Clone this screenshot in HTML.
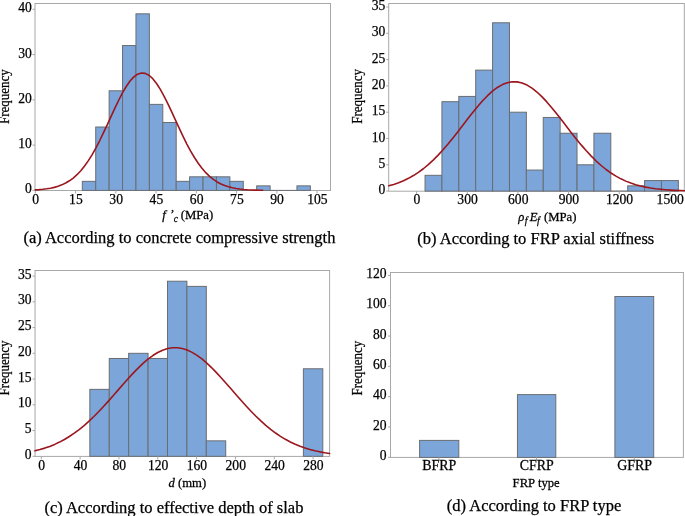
<!DOCTYPE html>
<html><head><meta charset="utf-8"><style>
html,body{margin:0;padding:0;background:#fff;}
#w{position:absolute;left:0;top:0;width:685px;height:516px;will-change:transform;}
svg{display:block;font-family:"Liberation Serif",serif;}
text{fill:#000;stroke:#000;stroke-width:0.25px;}
</style></head><body><div id="w">
<svg width="685" height="516" viewBox="0 0 685 516">
<rect x="35.0" y="3.5" width="295.5" height="187.0" fill="none" stroke="#a8a8a8" stroke-width="1"/>
<rect x="82.30" y="181.34" width="13.41" height="9.06" fill="#7ca6d9" stroke="#6a6d72" stroke-width="1"/>
<rect x="95.72" y="127.02" width="13.41" height="63.38" fill="#7ca6d9" stroke="#6a6d72" stroke-width="1"/>
<rect x="109.13" y="90.80" width="13.41" height="99.60" fill="#7ca6d9" stroke="#6a6d72" stroke-width="1"/>
<rect x="122.55" y="45.52" width="13.42" height="144.88" fill="#7ca6d9" stroke="#6a6d72" stroke-width="1"/>
<rect x="135.96" y="13.83" width="13.41" height="176.57" fill="#7ca6d9" stroke="#6a6d72" stroke-width="1"/>
<rect x="149.38" y="104.38" width="13.41" height="86.02" fill="#7ca6d9" stroke="#6a6d72" stroke-width="1"/>
<rect x="162.79" y="122.49" width="13.41" height="67.91" fill="#7ca6d9" stroke="#6a6d72" stroke-width="1"/>
<rect x="176.21" y="181.34" width="13.41" height="9.06" fill="#7ca6d9" stroke="#6a6d72" stroke-width="1"/>
<rect x="189.62" y="176.82" width="13.42" height="13.58" fill="#7ca6d9" stroke="#6a6d72" stroke-width="1"/>
<rect x="203.04" y="176.82" width="13.41" height="13.58" fill="#7ca6d9" stroke="#6a6d72" stroke-width="1"/>
<rect x="216.45" y="176.82" width="13.41" height="13.58" fill="#7ca6d9" stroke="#6a6d72" stroke-width="1"/>
<rect x="229.87" y="181.34" width="13.41" height="9.06" fill="#7ca6d9" stroke="#6a6d72" stroke-width="1"/>
<line x1="243.28" y1="190.40" x2="256.70" y2="190.40" stroke="#6a6d72" stroke-width="1"/>
<rect x="256.70" y="185.87" width="13.42" height="4.53" fill="#7ca6d9" stroke="#6a6d72" stroke-width="1"/>
<line x1="270.11" y1="190.40" x2="283.53" y2="190.40" stroke="#6a6d72" stroke-width="1"/>
<line x1="283.53" y1="190.40" x2="296.94" y2="190.40" stroke="#6a6d72" stroke-width="1"/>
<rect x="296.94" y="185.87" width="13.42" height="4.53" fill="#7ca6d9" stroke="#6a6d72" stroke-width="1"/>
<line x1="32.50" y1="190.40" x2="35.00" y2="190.40" stroke="#a8a8a8" stroke-width="1"/>
<text transform="translate(31.90,193.40) scale(1.0,1.0)" text-anchor="end" font-size="13.6" >0</text>
<line x1="32.50" y1="145.12" x2="35.00" y2="145.12" stroke="#a8a8a8" stroke-width="1"/>
<text transform="translate(31.90,148.12) scale(1.0,1.0)" text-anchor="end" font-size="13.6" >10</text>
<line x1="32.50" y1="99.85" x2="35.00" y2="99.85" stroke="#a8a8a8" stroke-width="1"/>
<text transform="translate(31.90,102.85) scale(1.0,1.0)" text-anchor="end" font-size="13.6" >20</text>
<line x1="32.50" y1="54.58" x2="35.00" y2="54.58" stroke="#a8a8a8" stroke-width="1"/>
<text transform="translate(31.90,57.58) scale(1.0,1.0)" text-anchor="end" font-size="13.6" >30</text>
<line x1="32.50" y1="9.30" x2="35.00" y2="9.30" stroke="#a8a8a8" stroke-width="1"/>
<text transform="translate(31.90,12.30) scale(1.0,1.0)" text-anchor="end" font-size="13.6" >40</text>
<line x1="35.35" y1="190.50" x2="35.35" y2="193.50" stroke="#a8a8a8" stroke-width="1"/>
<text transform="translate(35.65,204.00) scale(1.0,1.0)" text-anchor="middle" font-size="13.6" >0</text>
<line x1="75.59" y1="190.50" x2="75.59" y2="193.50" stroke="#a8a8a8" stroke-width="1"/>
<text transform="translate(75.89,204.00) scale(1.0,1.0)" text-anchor="middle" font-size="13.6" >15</text>
<line x1="115.84" y1="190.50" x2="115.84" y2="193.50" stroke="#a8a8a8" stroke-width="1"/>
<text transform="translate(116.14,204.00) scale(1.0,1.0)" text-anchor="middle" font-size="13.6" >30</text>
<line x1="156.08" y1="190.50" x2="156.08" y2="193.50" stroke="#a8a8a8" stroke-width="1"/>
<text transform="translate(156.38,204.00) scale(1.0,1.0)" text-anchor="middle" font-size="13.6" >45</text>
<line x1="196.33" y1="190.50" x2="196.33" y2="193.50" stroke="#a8a8a8" stroke-width="1"/>
<text transform="translate(196.63,204.00) scale(1.0,1.0)" text-anchor="middle" font-size="13.6" >60</text>
<line x1="236.57" y1="190.50" x2="236.57" y2="193.50" stroke="#a8a8a8" stroke-width="1"/>
<text transform="translate(236.88,204.00) scale(1.0,1.0)" text-anchor="middle" font-size="13.6" >75</text>
<line x1="276.82" y1="190.50" x2="276.82" y2="193.50" stroke="#a8a8a8" stroke-width="1"/>
<text transform="translate(277.12,204.00) scale(1.0,1.0)" text-anchor="middle" font-size="13.6" >90</text>
<line x1="317.06" y1="190.50" x2="317.06" y2="193.50" stroke="#a8a8a8" stroke-width="1"/>
<text transform="translate(317.37,204.00) scale(1.0,1.0)" text-anchor="middle" font-size="13.6" >105</text>
<polyline points="35.35,189.87 39.14,189.62 42.93,189.28 46.71,188.82 50.50,188.19 54.29,187.36 58.08,186.26 61.86,184.85 65.65,183.05 69.44,180.80 73.23,178.04 77.01,174.69 80.80,170.70 84.59,166.02 88.38,160.65 92.16,154.57 95.95,147.83 99.74,140.51 103.53,132.70 107.31,124.57 111.10,116.31 114.89,108.12 118.68,100.25 122.46,92.96 126.25,86.48 130.04,81.07 133.83,76.91 137.61,74.17 141.40,72.97 145.19,73.34 148.98,75.28 152.76,78.70 156.55,83.47 160.34,89.41 164.13,96.31 167.91,103.90 171.70,111.95 175.49,120.20 179.28,128.43 183.06,136.43 186.85,144.03 190.64,151.09 194.43,157.52 198.21,163.27 202.00,168.31 205.79,172.66 209.58,176.34 213.36,179.41 217.15,181.92 220.94,183.95 224.73,185.56 228.51,186.81 232.30,187.78 236.09,188.51 239.88,189.06 243.66,189.46 247.45,189.75 251.24,189.95 255.03,190.10 258.81,190.20 262.60,190.27" fill="none" stroke="#9c161e" stroke-width="1.6" stroke-linejoin="round" stroke-linecap="round"/>
<rect x="388.7" y="3.5" width="295.59999999999997" height="187.7" fill="none" stroke="#a8a8a8" stroke-width="1"/>
<rect x="425.04" y="175.32" width="16.89" height="15.78" fill="#7ca6d9" stroke="#6a6d72" stroke-width="1"/>
<rect x="441.93" y="101.68" width="16.89" height="89.42" fill="#7ca6d9" stroke="#6a6d72" stroke-width="1"/>
<rect x="458.82" y="96.42" width="16.89" height="94.68" fill="#7ca6d9" stroke="#6a6d72" stroke-width="1"/>
<rect x="475.70" y="70.12" width="16.89" height="120.98" fill="#7ca6d9" stroke="#6a6d72" stroke-width="1"/>
<rect x="492.59" y="22.78" width="16.89" height="168.32" fill="#7ca6d9" stroke="#6a6d72" stroke-width="1"/>
<rect x="509.48" y="112.20" width="16.89" height="78.90" fill="#7ca6d9" stroke="#6a6d72" stroke-width="1"/>
<rect x="526.37" y="170.06" width="16.89" height="21.04" fill="#7ca6d9" stroke="#6a6d72" stroke-width="1"/>
<rect x="543.25" y="117.46" width="16.89" height="73.64" fill="#7ca6d9" stroke="#6a6d72" stroke-width="1"/>
<rect x="560.14" y="133.24" width="16.89" height="57.86" fill="#7ca6d9" stroke="#6a6d72" stroke-width="1"/>
<rect x="577.03" y="164.80" width="16.89" height="26.30" fill="#7ca6d9" stroke="#6a6d72" stroke-width="1"/>
<rect x="593.91" y="133.24" width="16.89" height="57.86" fill="#7ca6d9" stroke="#6a6d72" stroke-width="1"/>
<line x1="610.80" y1="191.10" x2="627.69" y2="191.10" stroke="#6a6d72" stroke-width="1"/>
<rect x="627.69" y="185.84" width="16.89" height="5.26" fill="#7ca6d9" stroke="#6a6d72" stroke-width="1"/>
<rect x="644.57" y="180.58" width="16.89" height="10.52" fill="#7ca6d9" stroke="#6a6d72" stroke-width="1"/>
<rect x="661.46" y="180.58" width="16.89" height="10.52" fill="#7ca6d9" stroke="#6a6d72" stroke-width="1"/>
<line x1="386.20" y1="191.10" x2="388.70" y2="191.10" stroke="#a8a8a8" stroke-width="1"/>
<text transform="translate(385.40,194.10) scale(1.0,1.0)" text-anchor="end" font-size="13.6" >0</text>
<line x1="386.20" y1="164.80" x2="388.70" y2="164.80" stroke="#a8a8a8" stroke-width="1"/>
<text transform="translate(385.40,167.80) scale(1.0,1.0)" text-anchor="end" font-size="13.6" >5</text>
<line x1="386.20" y1="138.50" x2="388.70" y2="138.50" stroke="#a8a8a8" stroke-width="1"/>
<text transform="translate(385.40,141.50) scale(1.0,1.0)" text-anchor="end" font-size="13.6" >10</text>
<line x1="386.20" y1="112.20" x2="388.70" y2="112.20" stroke="#a8a8a8" stroke-width="1"/>
<text transform="translate(385.40,115.20) scale(1.0,1.0)" text-anchor="end" font-size="13.6" >15</text>
<line x1="386.20" y1="85.90" x2="388.70" y2="85.90" stroke="#a8a8a8" stroke-width="1"/>
<text transform="translate(385.40,88.90) scale(1.0,1.0)" text-anchor="end" font-size="13.6" >20</text>
<line x1="386.20" y1="59.60" x2="388.70" y2="59.60" stroke="#a8a8a8" stroke-width="1"/>
<text transform="translate(385.40,62.60) scale(1.0,1.0)" text-anchor="end" font-size="13.6" >25</text>
<line x1="386.20" y1="33.30" x2="388.70" y2="33.30" stroke="#a8a8a8" stroke-width="1"/>
<text transform="translate(385.40,36.30) scale(1.0,1.0)" text-anchor="end" font-size="13.6" >30</text>
<line x1="386.20" y1="7.00" x2="388.70" y2="7.00" stroke="#a8a8a8" stroke-width="1"/>
<text transform="translate(385.40,10.00) scale(1.0,1.0)" text-anchor="end" font-size="13.6" >35</text>
<line x1="416.60" y1="191.20" x2="416.60" y2="194.20" stroke="#a8a8a8" stroke-width="1"/>
<text transform="translate(416.90,204.30) scale(1.0,1.0)" text-anchor="middle" font-size="13.6" >0</text>
<line x1="467.26" y1="191.20" x2="467.26" y2="194.20" stroke="#a8a8a8" stroke-width="1"/>
<text transform="translate(467.56,204.30) scale(1.0,1.0)" text-anchor="middle" font-size="13.6" >300</text>
<line x1="517.92" y1="191.20" x2="517.92" y2="194.20" stroke="#a8a8a8" stroke-width="1"/>
<text transform="translate(518.22,204.30) scale(1.0,1.0)" text-anchor="middle" font-size="13.6" >600</text>
<line x1="568.58" y1="191.20" x2="568.58" y2="194.20" stroke="#a8a8a8" stroke-width="1"/>
<text transform="translate(568.88,204.30) scale(1.0,1.0)" text-anchor="middle" font-size="13.6" >900</text>
<line x1="619.24" y1="191.20" x2="619.24" y2="194.20" stroke="#a8a8a8" stroke-width="1"/>
<text transform="translate(619.54,204.30) scale(1.0,1.0)" text-anchor="middle" font-size="13.6" >1200</text>
<line x1="669.90" y1="191.20" x2="669.90" y2="194.20" stroke="#a8a8a8" stroke-width="1"/>
<text transform="translate(670.20,204.30) scale(1.0,1.0)" text-anchor="middle" font-size="13.6" >1500</text>
<polyline points="388.74,185.80 393.68,184.40 398.62,182.71 403.55,180.71 408.49,178.33 413.43,175.57 418.37,172.38 423.31,168.75 428.25,164.66 433.19,160.12 438.13,155.14 443.07,149.74 448.01,143.98 452.95,137.92 457.89,131.64 462.83,125.24 467.77,118.82 472.71,112.53 477.65,106.48 482.59,100.82 487.53,95.69 492.46,91.20 497.40,87.47 502.34,84.61 507.28,82.70 512.22,81.77 517.16,81.88 522.10,83.00 527.04,85.10 531.98,88.14 536.92,92.02 541.86,96.65 546.80,101.90 551.74,107.65 556.68,113.75 561.62,120.08 566.56,126.50 571.50,132.89 576.44,139.13 581.37,145.14 586.31,150.83 591.25,156.15 596.19,161.05 601.13,165.50 606.07,169.50 611.01,173.04 615.95,176.15 620.89,178.83 625.83,181.13 630.77,183.07 635.71,184.70 640.65,186.04 645.59,187.14 650.53,188.03 655.47,188.74 660.41,189.30 665.35,189.75 670.28,190.09 675.22,190.35 680.16,190.55 685.10,190.70" fill="none" stroke="#9c161e" stroke-width="1.6" stroke-linejoin="round" stroke-linecap="round"/>
<rect x="35.05" y="270.5" width="294.55" height="185.89999999999998" fill="none" stroke="#a8a8a8" stroke-width="1"/>
<rect x="89.84" y="389.36" width="19.41" height="66.94" fill="#7ca6d9" stroke="#6a6d72" stroke-width="1"/>
<rect x="109.25" y="358.47" width="19.41" height="97.83" fill="#7ca6d9" stroke="#6a6d72" stroke-width="1"/>
<rect x="128.66" y="353.32" width="19.41" height="102.98" fill="#7ca6d9" stroke="#6a6d72" stroke-width="1"/>
<rect x="148.08" y="358.47" width="19.41" height="97.83" fill="#7ca6d9" stroke="#6a6d72" stroke-width="1"/>
<rect x="167.49" y="281.23" width="19.41" height="175.07" fill="#7ca6d9" stroke="#6a6d72" stroke-width="1"/>
<rect x="186.90" y="286.38" width="19.41" height="169.92" fill="#7ca6d9" stroke="#6a6d72" stroke-width="1"/>
<rect x="206.32" y="440.85" width="19.41" height="15.45" fill="#7ca6d9" stroke="#6a6d72" stroke-width="1"/>
<rect x="303.39" y="368.77" width="19.41" height="87.53" fill="#7ca6d9" stroke="#6a6d72" stroke-width="1"/>
<line x1="32.55" y1="456.30" x2="35.05" y2="456.30" stroke="#a8a8a8" stroke-width="1"/>
<text transform="translate(31.60,458.80) scale(1.0,1.0)" text-anchor="end" font-size="13.6" >0</text>
<line x1="32.55" y1="430.56" x2="35.05" y2="430.56" stroke="#a8a8a8" stroke-width="1"/>
<text transform="translate(31.60,433.06) scale(1.0,1.0)" text-anchor="end" font-size="13.6" >5</text>
<line x1="32.55" y1="404.81" x2="35.05" y2="404.81" stroke="#a8a8a8" stroke-width="1"/>
<text transform="translate(31.60,407.31) scale(1.0,1.0)" text-anchor="end" font-size="13.6" >10</text>
<line x1="32.55" y1="379.06" x2="35.05" y2="379.06" stroke="#a8a8a8" stroke-width="1"/>
<text transform="translate(31.60,381.56) scale(1.0,1.0)" text-anchor="end" font-size="13.6" >15</text>
<line x1="32.55" y1="353.32" x2="35.05" y2="353.32" stroke="#a8a8a8" stroke-width="1"/>
<text transform="translate(31.60,355.82) scale(1.0,1.0)" text-anchor="end" font-size="13.6" >20</text>
<line x1="32.55" y1="327.58" x2="35.05" y2="327.58" stroke="#a8a8a8" stroke-width="1"/>
<text transform="translate(31.60,330.08) scale(1.0,1.0)" text-anchor="end" font-size="13.6" >25</text>
<line x1="32.55" y1="301.83" x2="35.05" y2="301.83" stroke="#a8a8a8" stroke-width="1"/>
<text transform="translate(31.60,304.33) scale(1.0,1.0)" text-anchor="end" font-size="13.6" >30</text>
<line x1="32.55" y1="276.09" x2="35.05" y2="276.09" stroke="#a8a8a8" stroke-width="1"/>
<text transform="translate(31.60,278.59) scale(1.0,1.0)" text-anchor="end" font-size="13.6" >35</text>
<line x1="41.30" y1="456.40" x2="41.30" y2="459.40" stroke="#a8a8a8" stroke-width="1"/>
<text transform="translate(41.60,470.20) scale(1.0,1.0)" text-anchor="middle" font-size="13.6" >0</text>
<line x1="80.13" y1="456.40" x2="80.13" y2="459.40" stroke="#a8a8a8" stroke-width="1"/>
<text transform="translate(80.43,470.20) scale(1.0,1.0)" text-anchor="middle" font-size="13.6" >40</text>
<line x1="118.96" y1="456.40" x2="118.96" y2="459.40" stroke="#a8a8a8" stroke-width="1"/>
<text transform="translate(119.26,470.20) scale(1.0,1.0)" text-anchor="middle" font-size="13.6" >80</text>
<line x1="157.78" y1="456.40" x2="157.78" y2="459.40" stroke="#a8a8a8" stroke-width="1"/>
<text transform="translate(158.08,470.20) scale(1.0,1.0)" text-anchor="middle" font-size="13.6" >120</text>
<line x1="196.61" y1="456.40" x2="196.61" y2="459.40" stroke="#a8a8a8" stroke-width="1"/>
<text transform="translate(196.91,470.20) scale(1.0,1.0)" text-anchor="middle" font-size="13.6" >160</text>
<line x1="235.44" y1="456.40" x2="235.44" y2="459.40" stroke="#a8a8a8" stroke-width="1"/>
<text transform="translate(235.74,470.20) scale(1.0,1.0)" text-anchor="middle" font-size="13.6" >200</text>
<line x1="274.27" y1="456.40" x2="274.27" y2="459.40" stroke="#a8a8a8" stroke-width="1"/>
<text transform="translate(274.57,470.20) scale(1.0,1.0)" text-anchor="middle" font-size="13.6" >240</text>
<line x1="313.10" y1="456.40" x2="313.10" y2="459.40" stroke="#a8a8a8" stroke-width="1"/>
<text transform="translate(313.40,470.20) scale(1.0,1.0)" text-anchor="middle" font-size="13.6" >280</text>
<polyline points="34.99,450.84 39.90,449.59 44.81,448.12 49.72,446.39 54.63,444.39 59.54,442.09 64.45,439.47 69.36,436.52 74.27,433.21 79.18,429.55 84.09,425.53 89.00,421.17 93.91,416.49 98.82,411.51 103.73,406.28 108.64,400.85 113.55,395.27 118.46,389.63 123.37,384.00 128.28,378.47 133.19,373.13 138.10,368.08 143.01,363.40 147.92,359.19 152.83,355.54 157.74,352.51 162.65,350.18 167.56,348.58 172.47,347.77 177.38,347.75 182.29,348.52 187.20,350.07 192.11,352.37 197.02,355.36 201.93,358.98 206.84,363.16 211.75,367.81 216.67,372.85 221.58,378.18 226.49,383.70 231.40,389.32 236.31,394.97 241.22,400.55 246.13,405.99 251.04,411.23 255.95,416.22 260.86,420.92 265.77,425.30 270.68,429.34 275.59,433.02 280.50,436.34 285.41,439.32 290.32,441.96 295.23,444.28 300.14,446.29 305.05,448.03 309.96,449.52 314.87,450.78 319.78,451.84 324.69,452.72 329.60,453.45" fill="none" stroke="#9c161e" stroke-width="1.6" stroke-linejoin="round" stroke-linecap="round"/>
<rect x="390.5" y="272.5" width="292.9" height="184.89999999999998" fill="none" stroke="#a8a8a8" stroke-width="1"/>
<rect x="419.60" y="440.40" width="39.20" height="17.00" fill="#7ca6d9" stroke="#6a6d72" stroke-width="1"/>
<rect x="517.45" y="394.60" width="38.35" height="62.80" fill="#7ca6d9" stroke="#6a6d72" stroke-width="1"/>
<rect x="614.90" y="296.50" width="38.80" height="160.90" fill="#7ca6d9" stroke="#6a6d72" stroke-width="1"/>
<line x1="388.00" y1="457.30" x2="390.50" y2="457.30" stroke="#a8a8a8" stroke-width="1"/>
<text transform="translate(386.60,460.00) scale(1.0,1.0)" text-anchor="end" font-size="13.6" >0</text>
<line x1="388.00" y1="426.98" x2="390.50" y2="426.98" stroke="#a8a8a8" stroke-width="1"/>
<text transform="translate(386.60,429.68) scale(1.0,1.0)" text-anchor="end" font-size="13.6" >20</text>
<line x1="388.00" y1="396.67" x2="390.50" y2="396.67" stroke="#a8a8a8" stroke-width="1"/>
<text transform="translate(386.60,399.37) scale(1.0,1.0)" text-anchor="end" font-size="13.6" >40</text>
<line x1="388.00" y1="366.35" x2="390.50" y2="366.35" stroke="#a8a8a8" stroke-width="1"/>
<text transform="translate(386.60,369.05) scale(1.0,1.0)" text-anchor="end" font-size="13.6" >60</text>
<line x1="388.00" y1="336.04" x2="390.50" y2="336.04" stroke="#a8a8a8" stroke-width="1"/>
<text transform="translate(386.60,338.74) scale(1.0,1.0)" text-anchor="end" font-size="13.6" >80</text>
<line x1="388.00" y1="305.72" x2="390.50" y2="305.72" stroke="#a8a8a8" stroke-width="1"/>
<text transform="translate(386.60,308.42) scale(1.0,1.0)" text-anchor="end" font-size="13.6" >100</text>
<line x1="388.00" y1="275.40" x2="390.50" y2="275.40" stroke="#a8a8a8" stroke-width="1"/>
<text transform="translate(386.60,278.10) scale(1.0,1.0)" text-anchor="end" font-size="13.6" >120</text>
<line x1="439.00" y1="457.40" x2="439.00" y2="460.40" stroke="#a8a8a8" stroke-width="1"/>
<text transform="translate(439.30,469.80) scale(1.0,1.05)" text-anchor="middle" font-size="13.9" >BFRP</text>
<line x1="536.50" y1="457.40" x2="536.50" y2="460.40" stroke="#a8a8a8" stroke-width="1"/>
<text transform="translate(536.80,469.80) scale(1.0,1.05)" text-anchor="middle" font-size="13.9" >CFRP</text>
<line x1="634.30" y1="457.40" x2="634.30" y2="460.40" stroke="#a8a8a8" stroke-width="1"/>
<text transform="translate(634.60,469.80) scale(1.0,1.05)" text-anchor="middle" font-size="13.9" >GFRP</text>
<text transform="translate(8.9,96.65) rotate(-90) scale(1,1.08)" text-anchor="middle" font-size="13">Frequency</text>
<text transform="translate(362.0,96.35) rotate(-90) scale(1,1.08)" text-anchor="middle" font-size="13">Frequency</text>
<text transform="translate(8.9,368.0) rotate(-90) scale(1,1.08)" text-anchor="middle" font-size="13">Frequency</text>
<text transform="translate(362.1,368.1) rotate(-90) scale(1,1.08)" text-anchor="middle" font-size="13">Frequency</text>
<text transform="translate(0,218.9) scale(1,1.03)" font-size="12.7"><tspan x="162.3" font-style="italic">f</tspan><tspan x="169.4" font-style="italic" dy="-1.2">’</tspan><tspan x="173.8" font-style="italic" font-size="9.5" dy="4.0">c</tspan><tspan x="180.8" dy="-2.8">(MPa)</tspan></text>
<text transform="translate(0,221.0) scale(1,1.03)" font-size="12.7"><tspan x="518.2" font-style="italic">ρ</tspan><tspan x="524.8" font-style="italic" font-size="10" dy="2.8">f</tspan><tspan x="529.8" font-style="italic" dy="-2.8">E</tspan><tspan x="537.0" font-style="italic" font-size="10" dy="2.8">f</tspan><tspan x="544.0" dy="-2.8">(MPa)</tspan></text>
<text transform="translate(0,486.6) scale(1,1.06)" font-size="12.7"><tspan x="168.5" font-style="italic">d</tspan><tspan x="178.0">(mm)</tspan></text>
<text transform="translate(512.6,486.8) scale(1,1.06)" font-size="12.7">FRP type</text>
<text x="23.40" y="243.00" text-anchor="start" font-size="16.5" >(a) According to concrete compressive strength</text>
<text x="417.30" y="244.00" text-anchor="start" font-size="16.5" >(b) According to FRP axial stiffness</text>
<text x="44.40" y="512.50" text-anchor="start" font-size="16.5" >(c) According to effective depth of slab</text>
<text x="446.80" y="511.00" text-anchor="start" font-size="16.5" >(d) According to FRP type</text>
</svg></div></body></html>
